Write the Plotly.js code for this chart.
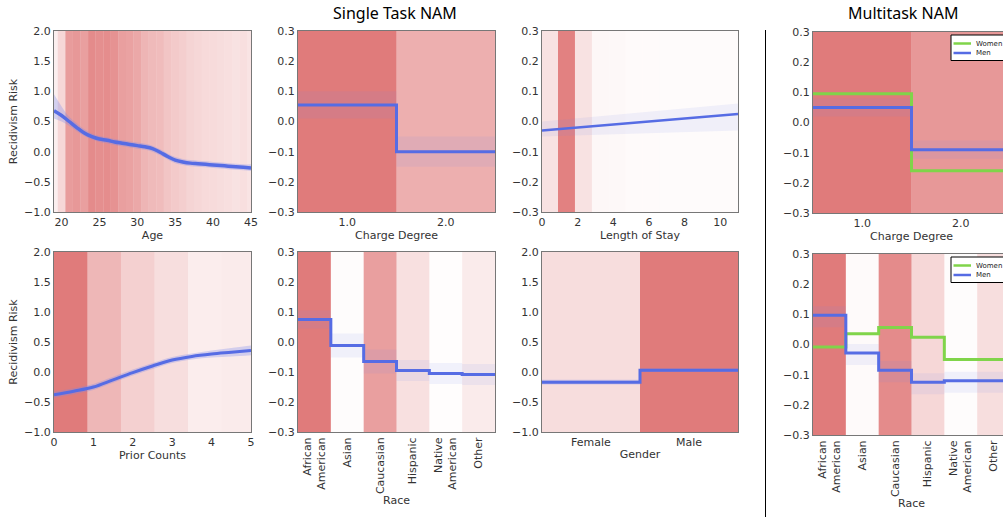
<!DOCTYPE html>
<html><head><meta charset="utf-8">
<script src="https://cdn.plot.ly/plotly-3.0.1.min.js"></script>
<style>html,body{margin:0;padding:0;overflow:hidden;background:#fff;width:1003px;height:517px;}
#wrap{width:1003px;height:517px;overflow:hidden;position:relative;}
#chart{width:1015px;height:517px;position:absolute;left:0;top:0;}</style>
</head><body><div id="wrap"><div id="chart"></div></div>
<script>
// ---------- DATA ----------
// Age
const ageX = [19,20,21,22,23,24,25,26,27,28,29,30,31,32,33,34,35,36,37,38,39,40,41,42,43,44,45];
const ageRisk = [0.68,0.6,0.5,0.4,0.31,0.25,0.21,0.19,0.16,0.14,0.12,0.1,0.08,0.05,-0.01,-0.08,-0.14,-0.17,-0.19,-0.2,-0.21,-0.22,-0.23,-0.24,-0.25,-0.26,-0.27];
const ageUpper = [0.95,0.75,0.58,0.47,0.37,0.3,0.26,0.24,0.21,0.19,0.17,0.15,0.13,0.1,0.04,-0.03,-0.09,-0.12,-0.14,-0.15,-0.16,-0.17,-0.18,-0.19,-0.2,-0.21,-0.21];
const ageLower = [0.55,0.5,0.43,0.34,0.26,0.2,0.16,0.14,0.11,0.09,0.07,0.05,0.03,0.0,-0.06,-0.13,-0.19,-0.22,-0.24,-0.25,-0.26,-0.27,-0.28,-0.29,-0.3,-0.31,-0.32];
const ageDensity = [0.12,0.3,0.75,0.78,0.72,0.88,0.85,0.86,0.82,0.72,0.7,0.66,0.56,0.52,0.5,0.44,0.4,0.37,0.32,0.3,0.28,0.27,0.26,0.24,0.22,0.24,0.2];

// Charge degree (single task)
const chargeCats = [1,2];
const chargeLabels = ['1.0','2.0'];
const chargeRisk = [0.055,-0.1];
const chargeSpread = [0.045,0.05];
const chargeDensity = [1.0,0.6];

// Length of stay
const losX = [0,11];
const losRisk = [-0.03,0.025];
const losUpper = [0.0,0.06];
const losLower = [-0.05,-0.03];
const losBandCenters = [0.45,1.375,2.325,3.275,4.225,5.175,6.125,7.075,8.025,8.975,9.925,10.875];
const losBandWidth = 0.95;
const losDensity = [0.22,0.95,0.22,0.06,0.05,0.04,0.04,0.03,0.03,0.03,0.03,0.03];

// Prior counts
const priorX = [0,0.5,1,1.5,2,2.5,3,3.5,4,4.5,5];
const priorRisk = [-0.38,-0.32,-0.25,-0.13,-0.01,0.1,0.2,0.26,0.3,0.33,0.36];
const priorSpread = [0.05,0.05,0.05,0.05,0.05,0.05,0.05,0.05,0.06,0.07,0.08];
const priorBandCenters = [0.425,1.275,2.125,2.975,3.825,4.675];
const priorBandWidth = 0.85;
const priorDensity = [1.0,0.54,0.35,0.25,0.14,0.15];

// Race (single task)
const raceLabels = ['African<br>American','Asian','Caucasian','Hispanic','Native<br>American','Other'];
const raceRisk = [0.075,-0.012,-0.065,-0.095,-0.105,-0.108];
const raceSpread = [0.03,0.04,0.04,0.035,0.035,0.035];
const raceDensity = [1.0,0.02,0.72,0.23,0.01,0.15];

// Gender
const genderLabels = ['Female','Male'];
const genderRisk = [-0.17,0.03];
const genderSpread = [0.04,0.03];
const genderDensity = [0.26,1.0];

// Multitask: charge degree
const mtChargeWomen = [0.095,-0.16];
const mtChargeMen = [0.05,-0.09];
const mtChargeDensity = [1.0,0.78];

// Multitask: race
const mtRaceWomen = [-0.008,0.036,0.056,0.024,-0.05,-0.05];
const mtRaceMen = [0.097,-0.028,-0.085,-0.125,-0.12,-0.12];
const mtRaceDensity = [1.0,0.04,0.88,0.3,0.02,0.25];

const groupNames = ['Women','Men'];

// ---------- STYLE ----------
const W = 1015, H = 517;
const BLUE = 'rgb(86,108,228)';
const GREEN = 'rgb(128,212,74)';
const HALO = 'rgba(120,135,240,0.30)';
const FAINT = 'rgba(120,135,240,0.10)';
const FONT = 'DejaVu Sans, sans-serif';
const TXT = '#333';
function redA(f){ return 'rgba(210,60,60,' + (f*0.68).toFixed(3) + ')'; }
function xd(a,b){ return [a/W, b/W]; }
function yd(top,bot){ return [1-bot/H, 1-top/H]; }

const traces = [];
function ax(n){ return n===1?{xaxis:'x',yaxis:'y'}:{xaxis:'x'+n,yaxis:'y'+n}; }
function bands(n, centers, widths, dens, yr){
  traces.push(Object.assign({type:'bar', x:centers, width:widths, base:yr[0], y:centers.map(()=>yr[1]-yr[0]),
    marker:{color:dens.map(redA), line:{width:0}}, hoverinfo:'skip', showlegend:false}, ax(n)));
}
function band(n, xs, lo, hi, color, shape){
  traces.push(Object.assign({type:'scatter', mode:'lines', x:xs, y:lo, line:{width:0, shape:shape||'linear'}, hoverinfo:'skip', showlegend:false}, ax(n)));
  traces.push(Object.assign({type:'scatter', mode:'lines', x:xs, y:hi, fill:'tonexty', fillcolor:color, line:{width:0, shape:shape||'linear'}, hoverinfo:'skip', showlegend:false}, ax(n)));
}
function line(n, xs, ys, color, width, shape, extra){
  traces.push(Object.assign({type:'scatter', mode:'lines', x:xs, y:ys, line:{color:color, width:width, shape:shape||'linear'}, hoverinfo:'skip', showlegend:false}, ax(n), extra||{}));
}
function stepX(cats){ const e = cats.map(c=>c-0.5); e.push(cats[cats.length-1]+0.5); return e; }
function stepY(v){ return v.concat([v[v.length-1]]); }
function idx(a){ return a.map((_,i)=>i); }

// Panel 1: Age
bands(1, ageX, ageX.map(()=>1), ageDensity, [-1,2]);
band(1, ageX, ageLower, ageUpper, HALO, 'spline');
line(1, ageX, ageRisk, BLUE, 3.5, 'spline');

// Panel 2: Charge degree
bands(2, chargeCats, chargeCats.map(()=>1), chargeDensity, [-0.3,0.3]);
band(2, stepX(chargeCats), stepY(chargeRisk.map((v,i)=>v-chargeSpread[i])), stepY(chargeRisk.map((v,i)=>v+chargeSpread[i])), FAINT, 'hv');
line(2, stepX(chargeCats), stepY(chargeRisk), BLUE, 3, 'hv');

// Panel 3: Length of stay
bands(3, losBandCenters, losBandCenters.map(()=>losBandWidth), losDensity, [-0.3,0.3]);
band(3, losX, losLower, losUpper, FAINT);
line(3, losX, losRisk, BLUE, 2.5);

// Panel 4: Multitask charge
bands(4, chargeCats, chargeCats.map(()=>1), mtChargeDensity, [-0.3,0.3]);
band(4, stepX(chargeCats), stepY(mtChargeMen.map(v=>v-0.03)), stepY(mtChargeMen.map(v=>v+0.03)), FAINT, 'hv');
line(4, stepX(chargeCats), stepY(mtChargeWomen), GREEN, 3, 'hv');
line(4, stepX(chargeCats), stepY(mtChargeMen), BLUE, 3, 'hv');

// Panel 5: Prior counts
bands(5, priorBandCenters, priorBandCenters.map(()=>priorBandWidth), priorDensity, [-1,2]);
band(5, priorX, priorRisk.map((v,i)=>v-priorSpread[i]), priorRisk.map((v,i)=>v+priorSpread[i]), HALO, 'spline');
line(5, priorX, priorRisk, BLUE, 3, 'spline');

// Panel 6: Race
const raceIdx = idx(raceLabels);
bands(6, raceIdx, raceIdx.map(()=>1), raceDensity, [-0.3,0.3]);
band(6, stepX(raceIdx), stepY(raceRisk.map((v,i)=>v-raceSpread[i])), stepY(raceRisk.map((v,i)=>v+raceSpread[i])), FAINT, 'hv');
line(6, stepX(raceIdx), stepY(raceRisk), BLUE, 3, 'hv');

// Panel 7: Gender
const genIdx = idx(genderLabels);
bands(7, genIdx, genIdx.map(()=>1), genderDensity, [-1,2]);
band(7, stepX(genIdx), stepY(genderRisk.map((v,i)=>v-genderSpread[i])), stepY(genderRisk.map((v,i)=>v+genderSpread[i])), HALO, 'hv');
line(7, stepX(genIdx), stepY(genderRisk), BLUE, 3, 'hv');

// Panel 8: Multitask race
bands(8, raceIdx, raceIdx.map(()=>1), mtRaceDensity, [-0.3,0.3]);
band(8, stepX(raceIdx), stepY(mtRaceMen.map(v=>v-0.04)), stepY(mtRaceMen.map(v=>v+0.03)), FAINT, 'hv');
line(8, stepX(raceIdx), stepY(mtRaceWomen), GREEN, 3, 'hv');
line(8, stepX(raceIdx), stepY(mtRaceMen), BLUE, 3, 'hv');

// ---------- LAYOUT ----------
const tf = {family:FONT, size:11, color:TXT};
function xa(dom, anchor, o){ return Object.assign({domain:dom, anchor:anchor, showline:true, mirror:true, linecolor:'#777', linewidth:1, showgrid:false, zeroline:false, ticks:'', tickfont:tf, fixedrange:true}, o); }
function ya(dom, anchor, o){ return Object.assign({domain:dom, anchor:anchor, showline:true, mirror:true, linecolor:'#777', linewidth:1, showgrid:false, zeroline:false, ticks:'', tickfont:tf, tickformat:'.1f', fixedrange:true}, o); }

const c1 = xd(54,251), c2 = xd(298,495), c3 = xd(542,738), c4 = xd(813,1010);
const r1 = yd(31,212), r2 = yd(252,432), r1m = yd(32,213), r2m = yd(254,435);

// legend boxes (drawn in paper space, one per multitask panel)
const legendTops = [35, 257];
const legendColors = [GREEN, BLUE];
const shapes = [
  {type:'line', xref:'paper', yref:'paper', x0:765.5/W, x1:765.5/W, y0:0, y1:1-30/H, line:{color:'#000', width:1}}
];
const annotations = [
  {text:'Single Task NAM', xref:'paper', yref:'paper', x:395/W, y:1-1/H, xanchor:'center', yanchor:'top', borderpad:0, showarrow:false, font:{family:'Noto Sans, sans-serif', size:16, color:'#000'}},
  {text:'Multitask NAM', xref:'paper', yref:'paper', x:903/W, y:1-1/H, xanchor:'center', yanchor:'top', borderpad:0, showarrow:false, font:{family:'Noto Sans, sans-serif', size:16, color:'#000'}}
];
legendTops.forEach(t => {
  shapes.push({type:'rect', xref:'paper', yref:'paper', x0:951/W, x1:1012/W, y0:1-(t+25.5)/H, y1:1-t/H, fillcolor:'#fff', line:{color:'#000', width:1}, layer:'above'});
  groupNames.forEach((g,i) => {
    const yy = t + 8.5 + i*9.5;
    shapes.push({type:'line', xref:'paper', yref:'paper', x0:953.5/W, x1:971/W, y0:1-yy/H, y1:1-yy/H, line:{color:legendColors[i], width:2.5}, layer:'above'});
    annotations.push({text:g, xref:'paper', yref:'paper', x:973.5/W, y:1-yy/H, xanchor:'left', yanchor:'middle', showarrow:false, font:{family:FONT, size:7, color:'#222'}});
  });
});

const layout = {
  width:W, height:H, margin:{l:0,r:0,t:0,b:0}, paper_bgcolor:'#fff', plot_bgcolor:'#fff',
  barmode:'overlay', font:{family:FONT, color:TXT}, showlegend:false,
  xaxis: xa(c1,'y',{range:[19,45], tickvals:[20,25,30,35,40,45], title:{text:'Age', font:tf, standoff:2}}),
  yaxis: ya(r1,'x',{range:[-1,2], dtick:0.5, title:{text:'Recidivism Risk', font:tf, standoff:4}}),
  xaxis2: xa(c2,'y2',{range:[0.5,2.5], tickvals:chargeCats, ticktext:chargeLabels, title:{text:'Charge Degree', font:tf, standoff:2}}),
  yaxis2: ya(r1,'x2',{range:[-0.3,0.3], dtick:0.1}),
  xaxis3: xa(c3,'y3',{range:[0,11], dtick:2, tickformat:'d', title:{text:'Length of Stay', font:tf, standoff:2}}),
  yaxis3: ya(r1,'x3',{range:[-0.3,0.3], dtick:0.1}),
  xaxis4: xa(c4,'y4',{range:[0.5,2.5], tickvals:chargeCats, ticktext:chargeLabels, title:{text:'Charge Degree', font:tf, standoff:2}}),
  yaxis4: ya(r1m,'x4',{range:[-0.3,0.3], dtick:0.1}),
  xaxis5: xa(c1,'y5',{range:[0,5], dtick:1, tickformat:'d', title:{text:'Prior Counts', font:tf, standoff:2}}),
  yaxis5: ya(r2,'x5',{range:[-1,2], dtick:0.5, title:{text:'Recidivism Risk', font:tf, standoff:4}}),
  xaxis6: xa(c2,'y6',{range:[-0.5,5.5], tickvals:raceIdx, ticktext:raceLabels, tickangle:-90, title:{text:'Race', font:tf, standoff:2}}),
  yaxis6: ya(r2,'x6',{range:[-0.3,0.3], dtick:0.1}),
  xaxis7: xa(c3,'y7',{range:[-0.5,1.5], tickvals:genIdx, ticktext:genderLabels, title:{text:'Gender', font:tf, standoff:2}}),
  yaxis7: ya(r2,'x7',{range:[-1,2], dtick:0.5}),
  xaxis8: xa(c4,'y8',{range:[-0.5,5.5], tickvals:raceIdx, ticktext:raceLabels, tickangle:-90, title:{text:'Race', font:tf, standoff:2}}),
  yaxis8: ya(r2m,'x8',{range:[-0.3,0.3], dtick:0.1}),
  annotations: annotations,
  shapes: shapes
};

Plotly.newPlot('chart', traces, layout, {displayModeBar:false, staticPlot:true});
</script></body></html>
